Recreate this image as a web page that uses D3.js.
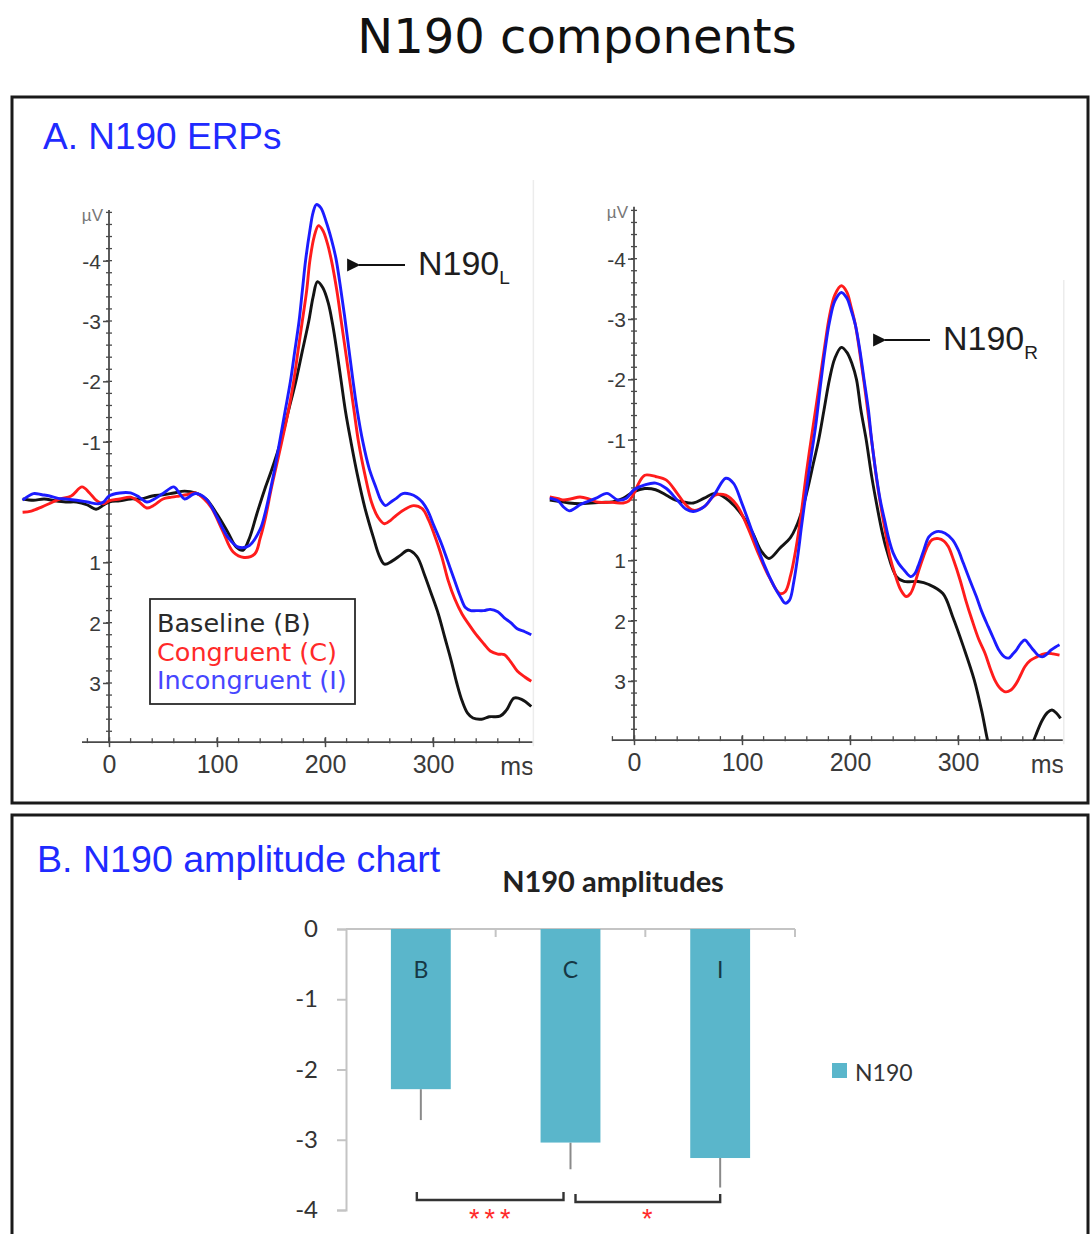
<!DOCTYPE html>
<html>
<head>
<meta charset="utf-8">
<script src="https://cdn.jsdelivr.net/npm/d3@7"></script>
<style>
  body { margin: 0; background: #fff; }
  svg { display: block; }
</style>
</head>
<body>
<svg id="chart" width="1090" height="1234"></svg>
<script>
// ---------- ERP waveforms: [time in ms, amplitude in µV] ----------
const leftBaseline = [[-80,-0.05],[-70,-0.03],[-60,-0.05],[-50,-0.02],[-40,0.0],[-30,0.0],[-20,0.05],[-12,0.12],[-5,0.05],[0,0.0],[10,-0.02],[20,-0.05],[30,-0.05],[40,-0.1],[50,-0.12],[60,-0.15],[70,-0.18],[80,-0.15],[90,-0.05],[100,0.2],[110,0.5],[118,0.75],[124,0.8],[130,0.6],[137,0.19],[144,-0.2],[150,-0.5],[159,-1.0],[166,-1.5],[173,-2.0],[179,-2.5],[185,-3.0],[189,-3.4],[193,-3.65],[198,-3.55],[203,-3.3],[207,-2.95],[211,-2.5],[215,-2.0],[219,-1.5],[224,-1.0],[230,-0.45],[237,0.1],[245,0.6],[250,0.88],[255,1.03],[262,0.98],[270,0.88],[277,0.8],[285,0.9],[292,1.2],[298,1.5],[305,1.86],[311,2.25],[317,2.64],[322,3.0],[327,3.3],[332,3.5],[337,3.58],[345,3.6],[352,3.56],[362,3.55],[368,3.45],[375,3.25],[382,3.27],[391,3.39]];
const leftCongruent = [[-80,0.17],[-72,0.15],[-62,0.08],[-52,0.0],[-45,-0.05],[-35,-0.1],[-25,-0.25],[-18,-0.15],[-12,-0.03],[-5,0.03],[0,-0.02],[10,-0.05],[20,-0.08],[28,0.0],[35,0.1],[42,0.05],[50,-0.05],[58,-0.08],[65,-0.1],[72,-0.12],[80,-0.15],[88,-0.05],[95,0.1],[105,0.47],[115,0.83],[125,0.92],[135,0.86],[140,0.6],[145,0.25],[150,-0.2],[155,-0.6],[160,-1.0],[166,-1.5],[171,-2.0],[175,-2.5],[179,-3.0],[183,-3.5],[186,-4.0],[190,-4.4],[194,-4.58],[198,-4.5],[202,-4.3],[206,-4.0],[211,-3.5],[215,-3.0],[219,-2.5],[223,-2.0],[227,-1.5],[231,-1.0],[237,-0.45],[243,0.0],[249,0.25],[255,0.36],[261,0.3],[266,0.22],[274,0.12],[282,0.06],[290,0.11],[296,0.3],[301,0.53],[308,0.9],[314,1.3],[320,1.6],[327,1.86],[334,2.05],[340,2.2],[347,2.35],[353,2.47],[360,2.52],[366,2.53],[372,2.65],[378,2.8],[385,2.9],[391,2.97]];
const leftIncongruent = [[-80,-0.03],[-70,-0.14],[-62,-0.12],[-55,-0.1],[-47,-0.06],[-40,-0.05],[-30,-0.03],[-20,0.0],[-10,0.03],[-5,0.0],[0,-0.1],[10,-0.15],[20,-0.15],[28,-0.08],[35,0.0],[42,-0.05],[50,-0.14],[60,-0.25],[65,-0.15],[70,-0.05],[80,-0.14],[90,-0.05],[100,0.25],[110,0.58],[120,0.75],[130,0.72],[140,0.45],[145,0.15],[150,-0.25],[154,-0.6],[158,-1.0],[163,-1.5],[168,-2.0],[172,-2.5],[176,-3.0],[179,-3.5],[182,-4.0],[186,-4.5],[189,-4.8],[192,-4.93],[196,-4.88],[201,-4.65],[206,-4.35],[210,-4.05],[214,-3.6],[218,-3.1],[222,-2.55],[226,-2.0],[230,-1.5],[235,-1.0],[241,-0.55],[247,-0.25],[252,-0.02],[256,0.06],[261,0.0],[266,-0.06],[272,-0.14],[279,-0.13],[285,-0.08],[290,0.0],[295,0.14],[301,0.4],[308,0.7],[314,1.0],[320,1.3],[325,1.55],[330,1.75],[335,1.8],[340,1.8],[347,1.8],[353,1.78],[360,1.82],[366,1.92],[372,2.0],[378,2.1],[385,2.15],[391,2.2]];

const rightBaseline = [[-78,0.0],[-70,0.02],[-60,0.05],[-50,0.06],[-40,0.05],[-30,0.04],[-20,0.03],[-10,-0.03],[0,-0.14],[10,-0.19],[20,-0.17],[30,-0.08],[38,0.0],[45,0.03],[55,0.05],[65,-0.03],[75,-0.11],[85,-0.03],[92,0.08],[100,0.25],[110,0.55],[118,0.85],[125,0.97],[135,0.8],[145,0.62],[150,0.45],[156,0.15],[161,-0.2],[166,-0.6],[171,-1.0],[176,-1.5],[181,-2.0],[186,-2.35],[192,-2.53],[197,-2.45],[202,-2.25],[206,-2.0],[210,-1.5],[215,-1.0],[220,-0.4],[225,0.1],[230,0.55],[234,0.83],[243,1.27],[250,1.35],[263,1.35],[273,1.4],[286,1.55],[295,1.93],[305,2.43],[315,2.98],[322,3.5],[327,3.95],[333,4.4],[342,4.8],[352,4.9],[360,4.6],[366,4.2],[372,3.9],[378,3.65],[383,3.52],[387,3.48],[391,3.53],[395,3.62]];
const rightCongruent = [[-78,-0.05],[-70,-0.02],[-65,0.0],[-58,-0.02],[-50,-0.05],[-42,-0.02],[-35,0.03],[-28,0.04],[-20,0.04],[-10,0.05],[-5,0.02],[0,-0.11],[5,-0.3],[10,-0.41],[20,-0.39],[30,-0.33],[40,-0.11],[48,0.08],[55,0.17],[65,0.11],[75,-0.08],[85,-0.08],[95,0.08],[105,0.44],[115,0.88],[125,1.27],[135,1.55],[140,1.52],[145,1.25],[150,0.8],[155,0.2],[160,-0.5],[164,-1.0],[169,-1.6],[173,-2.1],[177,-2.6],[181,-3.05],[186,-3.4],[192,-3.55],[197,-3.45],[201,-3.2],[205,-2.9],[209,-2.45],[213,-1.95],[217,-1.4],[221,-0.85],[225,-0.3],[229,0.15],[233,0.55],[237,0.94],[242,1.25],[247,1.49],[252,1.6],[256,1.55],[260,1.38],[264,1.15],[268,0.94],[272,0.76],[276,0.66],[282,0.64],[287,0.68],[291,0.77],[296,1.0],[302,1.33],[307,1.65],[313,1.99],[319,2.3],[325,2.54],[330,2.8],[334,2.98],[339,3.12],[344,3.18],[349,3.15],[354,3.04],[358,2.9],[362,2.76],[367,2.66],[373,2.6],[378,2.56],[383,2.54],[388,2.55],[394,2.57]];
const rightIncongruent = [[-78,-0.03],[-70,0.02],[-65,0.12],[-60,0.18],[-55,0.14],[-50,0.08],[-42,0.02],[-35,-0.03],[-25,-0.11],[-15,0.0],[-7,-0.03],[0,-0.17],[10,-0.25],[20,-0.28],[30,-0.19],[40,0.0],[48,0.15],[55,0.19],[65,0.11],[75,-0.11],[85,-0.36],[92,-0.28],[100,0.06],[110,0.55],[120,1.05],[130,1.44],[136,1.62],[140,1.71],[144,1.66],[148,1.35],[152,0.88],[155,0.45],[158,0.05],[163,-0.6],[168,-1.2],[173,-1.95],[177,-2.5],[181,-2.95],[186,-3.3],[192,-3.44],[197,-3.35],[201,-3.15],[205,-2.9],[209,-2.5],[213,-2.0],[217,-1.5],[220,-1.0],[224,-0.45],[228,0.0],[232,0.33],[236,0.65],[240,0.88],[245,1.05],[250,1.16],[256,1.27],[260,1.22],[263,1.1],[268,0.85],[273,0.61],[278,0.54],[282,0.52],[288,0.55],[295,0.66],[300,0.82],[305,1.05],[311,1.33],[317,1.6],[322,1.85],[328,2.1],[333,2.3],[338,2.49],[343,2.6],[347,2.62],[351,2.55],[354,2.49],[358,2.38],[362,2.32],[366,2.4],[370,2.49],[374,2.57],[378,2.6],[382,2.56],[386,2.49],[390,2.44],[394,2.4]];

const conditionNames = ["Baseline (B)", "Congruent (C)", "Incongruent (I)"];
const erpTimeTicks = [0, 100, 200, 300];
const erpAmpTicks = [-4, -3, -2, -1, 1, 2, 3];

// ---------- N190 amplitude bars ----------
const barCategories = ["B", "C", "I"];
const barValues = [-2.28, -3.04, -3.26];
const barErrors = [0.44, 0.38, 0.42];
const barTicks = [0, -1, -2, -3, -4];
const sigPairs = [["B", "C"], ["C", "I"]];
const sigLabels = ["***", "*"];

// ---------- drawing ----------
const svg = d3.select("#chart");
const lineColors = ["#141414", "#ff1c1c", "#1c1cff"];
const legendColors = ["#2a2a2a", "#ff2a2a", "#4646ff"];
const axisColor = "#4a4a4a";
const sans = "'Liberation Sans', Arial, sans-serif";

svg.append("rect").attr("width", 1090).attr("height", 1234).attr("fill", "#fff");

// main title
svg.append("text")
  .attr("x", 577).attr("y", 53)
  .attr("text-anchor", "middle")
  .attr("font-family", "'DejaVu Sans', sans-serif")
  .attr("font-size", 48).attr("fill", "#111")
  .text("N190 components");

// panel frames
svg.append("rect")
  .attr("x", 12).attr("y", 97).attr("width", 1076).attr("height", 706)
  .attr("fill", "none").attr("stroke", "#1a1a1a").attr("stroke-width", 3);
svg.append("path")
  .attr("d", "M12,1240V815H1088V1240")
  .attr("fill", "none").attr("stroke", "#1a1a1a").attr("stroke-width", 3);

svg.append("text")
  .attr("x", 43).attr("y", 149)
  .attr("font-family", sans).attr("font-size", 37).attr("fill", "#1f2bff")
  .text("A. N190 ERPs");
svg.append("text")
  .attr("x", 37).attr("y", 872)
  .attr("font-family", sans).attr("font-size", 37.6).attr("fill", "#1f2bff")
  .text("B. N190 amplitude chart");

svg.append("defs").append("marker")
  .attr("id", "arrowHead")
  .attr("viewBox", "0 0 10 10").attr("refX", 1).attr("refY", 5)
  .attr("markerWidth", 6.5).attr("markerHeight", 6)
  .attr("orient", "auto-start-reverse")
  .append("path").attr("d", "M0,5L10,0L10,10Z").attr("fill", "#111");

function drawERP(cfg) {
  const g = svg.append("g");
  const x = d3.scaleLinear().domain([0, 300]).range(cfg.xRange);
  const y = d3.scaleLinear().domain([0, 3]).range(cfg.yRange);
  const axisY = y(cfg.ampMax);
  const x0 = x(0);

  const clipId = "clip-" + cfg.id;
  g.append("clipPath").attr("id", clipId)
    .append("rect")
    .attr("x", x(cfg.curveStart) - 4).attr("y", 150)
    .attr("width", x(cfg.timeMax) - x(cfg.curveStart) + 4)
    .attr("height", axisY - 150);

  // faint edge of the plot area
  g.append("line")
    .attr("x1", x(cfg.timeMax) + 1).attr("x2", x(cfg.timeMax) + 1)
    .attr("y1", cfg.edgeTop).attr("y2", axisY + 4)
    .attr("stroke", "#ececec").attr("stroke-width", 1.5);

  // amplitude axis with dense minor ticks
  g.append("line")
    .attr("x1", x0).attr("x2", x0)
    .attr("y1", y(cfg.ampMin)).attr("y2", axisY)
    .attr("stroke", axisColor).attr("stroke-width", 1.8);
  const minor = d3.range(Math.ceil(cfg.ampMin * 5), Math.floor(cfg.ampMax * 5) + 1).map(d => d / 5);
  g.selectAll(".ymin").data(minor).join("line")
    .attr("x1", x0 - 3).attr("x2", x0 + 3)
    .attr("y1", d => y(d)).attr("y2", d => y(d))
    .attr("stroke", axisColor).attr("stroke-width", 1.3);
  const yAxis = d3.axisLeft(y).tickValues(erpAmpTicks).tickSize(6).tickPadding(2)
    .tickFormat(d => String(d));
  const ya = g.append("g").attr("transform", `translate(${x0},0)`).call(yAxis);
  ya.select(".domain").remove();
  ya.selectAll(".tick line").attr("stroke", axisColor).attr("stroke-width", 1.5);
  ya.selectAll(".tick text").attr("font-family", sans).attr("font-size", 21)
    .attr("fill", "#3a3a3a").attr("dy", "0.36em");

  g.append("text")
    .attr("x", x0 - 6).attr("y", y(cfg.ampMin) + 11)
    .attr("text-anchor", "end")
    .attr("font-family", sans).attr("font-size", 17).attr("fill", "#777")
    .text("µV");

  // time axis
  g.append("line")
    .attr("x1", x(cfg.timeMin)).attr("x2", x(cfg.timeMax))
    .attr("y1", axisY).attr("y2", axisY)
    .attr("stroke", axisColor).attr("stroke-width", 1.8);
  const tMinor = d3.range(-20, cfg.timeMax, 20);
  g.selectAll(".xmin").data(tMinor).join("line")
    .attr("x1", d => x(d)).attr("x2", d => x(d))
    .attr("y1", axisY - 4).attr("y2", axisY + 1)
    .attr("stroke", axisColor).attr("stroke-width", 1.3);
  const xAxis = d3.axisBottom(x).tickValues(erpTimeTicks).tickSize(5).tickPadding(8)
    .tickFormat(d => String(d));
  const xa = g.append("g").attr("transform", `translate(0,${axisY})`).call(xAxis);
  xa.select(".domain").remove();
  xa.selectAll(".tick line").attr("stroke", axisColor).attr("stroke-width", 1.5).attr("y1", -5);
  xa.selectAll(".tick text").attr("font-family", sans).attr("font-size", 25)
    .attr("fill", "#3a3a3a");

  const msClip = "msclip-" + cfg.id;
  g.append("clipPath").attr("id", msClip).append("rect")
    .attr("x", x(cfg.timeMax) - 60).attr("y", axisY)
    .attr("width", 60).attr("height", 50);
  g.append("text")
    .attr("clip-path", `url(#${msClip})`)
    .attr("x", x(cfg.timeMax) - 32).attr("y", axisY + 33)
    .attr("font-family", sans).attr("font-size", 25).attr("fill", "#3a3a3a")
    .text("ms");

  // waveforms
  const line = d3.line()
    .x(d => x(d[0])).y(d => y(d[1]))
    .curve(d3.curveCatmullRom.alpha(0.5));
  g.append("g").attr("clip-path", `url(#${clipId})`)
    .selectAll("path").data(cfg.series).join("path")
    .attr("d", line)
    .attr("fill", "none")
    .attr("stroke", (d, i) => lineColors[i])
    .attr("stroke-width", 2.9)
    .attr("stroke-linejoin", "round");

  // peak annotation
  const a = cfg.arrow;
  g.append("line")
    .attr("x1", a.x2).attr("x2", a.x1 + 10)
    .attr("y1", a.y).attr("y2", a.y)
    .attr("stroke", "#111").attr("stroke-width", 2.2)
    .attr("marker-end", "url(#arrowHead)");
  const lbl = g.append("text")
    .attr("x", a.x2 + 13).attr("y", a.y + 10)
    .attr("font-family", sans).attr("font-size", 34).attr("fill", "#1e1e1e");
  lbl.append("tspan").text("N190");
  lbl.append("tspan").attr("font-size", 19).attr("dy", 9).text(a.sub);
  return { x, y };
}

drawERP({
  id: "L",
  xRange: [109, 433], yRange: [502, 683],
  ampMin: -4.84, ampMax: 3.98,
  timeMin: -25, timeMax: 392, curveStart: -80, edgeTop: 180,
  series: [leftBaseline, leftCongruent, leftIncongruent],
  arrow: { x1: 349, x2: 405, y: 265, sub: "L" }
});
drawERP({
  id: "R",
  xRange: [634, 958], yRange: [500, 681],
  ampMin: -4.86, ampMax: 3.98,
  timeMin: -20, timeMax: 397, curveStart: -78, edgeTop: 280,
  series: [rightBaseline, rightCongruent, rightIncongruent],
  arrow: { x1: 875, x2: 930, y: 340, sub: "R" }
});

// condition legend
const lg = svg.append("g");
lg.append("rect")
  .attr("x", 150).attr("y", 599).attr("width", 205).attr("height", 105)
  .attr("fill", "#fff").attr("stroke", "#2a2a2a").attr("stroke-width", 1.8);
lg.selectAll("text").data(conditionNames).join("text")
  .attr("x", 157).attr("y", (d, i) => 632 + i * 28.5)
  .attr("font-family", "'DejaVu Sans', sans-serif").attr("font-size", 25.5)
  .attr("fill", (d, i) => legendColors[i])
  .text(d => d);

// ---------- bar chart ----------
const bf = "Lato, 'Open Sans', sans-serif";
const barColor = "#5ab6cb";
const gridColor = "#c4c4c4";
const bx = d3.scaleBand().domain(barCategories).range([346, 795])
  .paddingInner(0.6).paddingOuter(0.3);
const by = d3.scaleLinear().domain([0, -4]).range([929, 1210]);
const bg = svg.append("g");

bg.append("text")
  .attr("x", 613).attr("y", 892).attr("text-anchor", "middle")
  .attr("font-family", bf).attr("font-weight", "bold").attr("font-size", 29)
  .attr("fill", "#222").text("N190 amplitudes");

const yAx = d3.axisLeft(by).tickValues(barTicks).tickSize(9).tickPadding(19)
  .tickFormat(d => String(d));
const yag = bg.append("g").attr("transform", "translate(346,0)").call(yAx);
yag.select(".domain").attr("stroke", gridColor).attr("stroke-width", 2);
yag.selectAll(".tick line").attr("stroke", gridColor).attr("stroke-width", 2);
yag.selectAll(".tick text").attr("font-family", bf).attr("font-size", 24).attr("fill", "#333");

// category axis along zero
bg.append("line")
  .attr("x1", 346).attr("x2", 795).attr("y1", by(0)).attr("y2", by(0))
  .attr("stroke", gridColor).attr("stroke-width", 2);
bg.selectAll(".ctick").data(d3.range(1, barCategories.length + 1)).join("line")
  .attr("x1", k => 346 + k * bx.step()).attr("x2", k => 346 + k * bx.step())
  .attr("y1", by(0)).attr("y2", by(0) + 8)
  .attr("stroke", gridColor).attr("stroke-width", 2);

// error bars (drawn under the bars)
bg.selectAll(".err").data(barCategories).join("line")
  .attr("x1", d => bx(d) + bx.bandwidth() / 2).attr("x2", d => bx(d) + bx.bandwidth() / 2)
  .attr("y1", (d, i) => by(barValues[i])).attr("y2", (d, i) => by(barValues[i] - barErrors[i]))
  .attr("stroke", "#8a8a8a").attr("stroke-width", 2);

bg.selectAll(".bar").data(barCategories).join("rect")
  .attr("x", d => bx(d)).attr("width", bx.bandwidth())
  .attr("y", by(0)).attr("height", (d, i) => by(barValues[i]) - by(0))
  .attr("fill", barColor);

bg.selectAll(".blab").data(barCategories).join("text")
  .attr("x", d => bx(d) + bx.bandwidth() / 2).attr("y", 978)
  .attr("text-anchor", "middle")
  .attr("font-family", bf).attr("font-size", 23).attr("fill", "#163845")
  .text(d => d);

// series legend
bg.append("rect").attr("x", 832).attr("y", 1063).attr("width", 15).attr("height", 15).attr("fill", barColor);
bg.append("text").attr("x", 855).attr("y", 1081)
  .attr("font-family", bf).attr("font-size", 23).attr("fill", "#333").text("N190");

// significance brackets
const insets = [[-4, -7], [5, 0]];
const bracketY = [1200, 1202];
sigPairs.forEach((p, i) => {
  const xa = bx(p[0]) + bx.bandwidth() / 2 + insets[i][0];
  const xb = bx(p[1]) + bx.bandwidth() / 2 + insets[i][1];
  const yb = bracketY[i];
  bg.append("path")
    .attr("d", `M${xa},${yb - 8}V${yb}H${xb}V${yb - 8}`)
    .attr("fill", "none").attr("stroke", "#333").attr("stroke-width", 2.4);
  bg.append("text")
    .attr("x", (xa + xb) / 2 + 2).attr("y", 1228)
    .attr("text-anchor", "middle")
    .attr("font-family", sans).attr("font-size", 27).attr("fill", "#ff2a2a")
    .attr("letter-spacing", 5)
    .text(sigLabels[i]);
});
</script>
</body>
</html>
